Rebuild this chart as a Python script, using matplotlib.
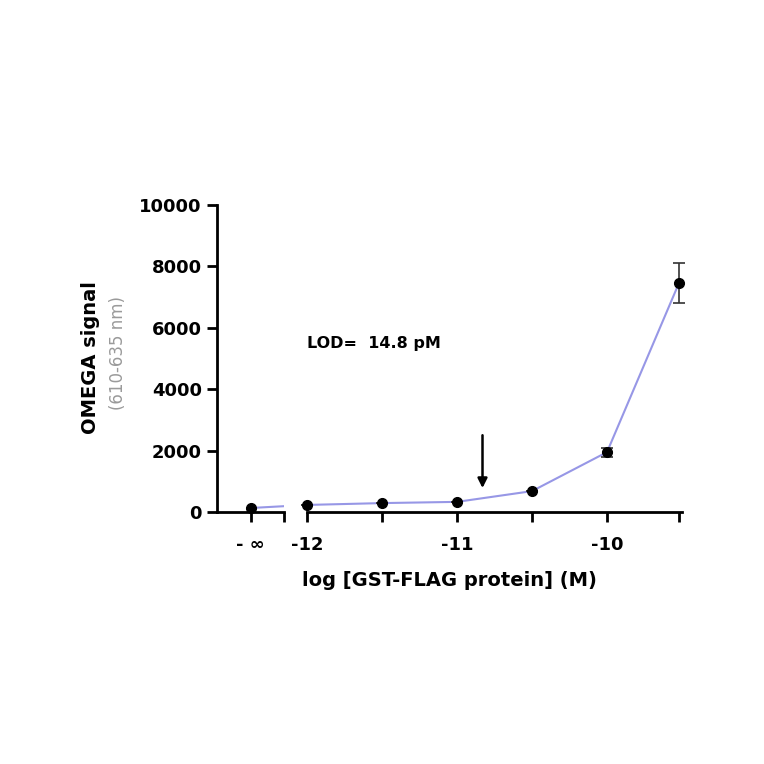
import matplotlib.pyplot as plt

plt.rcParams['font.family'] = ['DejaVu Sans']
plt.rcParams['font.weight'] = 'bold'

# datos
neg_inf_value = 130
log_conc = [-12, -11.5, -11, -10.5, -10, -9.52]
signal = [230, 290, 330, 680, 1950, 7460]
signal_err = [0, 0, 0, 0, 150, 640]
y_ticks = [0, 2000, 4000, 6000, 8000, 10000]
x_ticks = [-12, -11, -10]
x_minor = [-11.5, -10.5, -9.52]
lod_log = -10.83
lod_text = 'LOD=  14.8 pM'

line_color = '#9797e6'
fig = plt.figure(figsize=(7.64, 7.64), dpi=100)

# eje izquierdo (-inf)
ax1 = fig.add_axes([217/764, 1 - 512/764, 67/764, 307/764])
# eje derecho (log)
ax2 = fig.add_axes([307/764, 1 - 512/764, 375/764, 307/764])

for ax in (ax1, ax2):
    ax.set_ylim(0, 10000)
    for s in ['top', 'right']:
        ax.spines[s].set_visible(False)
    ax.spines['bottom'].set_linewidth(2)
    ax.spines['left'].set_linewidth(2)
    ax.tick_params(width=2, length=7, labelsize=13, direction='out', pad=4)
    ax.tick_params(axis='x', pad=10)

ax1.set_xlim(0, 1)
ax1.plot([0.5, 1.343], [neg_inf_value, signal[0]], color=line_color, lw=1.5, clip_on=True)
ax1.plot([0.5], [neg_inf_value], 'o', color='black', ms=7, clip_on=False, zorder=5)
ax1.set_xticks([0.5, 1.0])
ax1.set_xticklabels(['- ∞', ''], fontweight='bold')
ax1.set_yticks(y_ticks)
ax1.set_yticklabels([str(t) for t in y_ticks], fontweight='bold')

ax2.spines['left'].set_visible(False)
ax2.set_xlim(-12, -9.5)
ax2.set_yticks([])
ax2.plot(log_conc, signal, color=line_color, lw=1.5, zorder=2)
ax2.errorbar(log_conc, signal, yerr=signal_err, fmt='o', color='black', ms=7,
             ecolor='#333333', elinewidth=1.2, capsize=4, capthick=1.2,
             clip_on=False, zorder=5)
ax2.set_xticks(x_ticks + x_minor)
ax2.set_xticklabels([str(t) for t in x_ticks] + ['', '', ''], fontweight='bold')

# flecha del LOD
ax2.annotate('', xy=(lod_log, 780), xytext=(lod_log, 2500),
             arrowprops=dict(arrowstyle='-|>', color='black', lw=1.8,
                             mutation_scale=14, shrinkA=0, shrinkB=0))
ax2.text(-12, 5500, lod_text, fontsize=11.5, fontweight='bold', va='center', ha='left')

fig.text(449/764, 1 - 581/764, 'log [GST-FLAG protein] (M)', fontsize=14,
         fontweight='bold', ha='center', va='center')
fig.text(91/764, 1 - 358/764, 'OMEGA signal', fontsize=14, fontweight='bold',
         rotation=90, ha='center', va='center')
fig.text(118/764, 1 - 353/764, '(610-635 nm)', fontsize=12, fontweight='normal',
         color='#9a9a9a', rotation=90, ha='center', va='center')

fig.savefig('out.png', dpi=100)
